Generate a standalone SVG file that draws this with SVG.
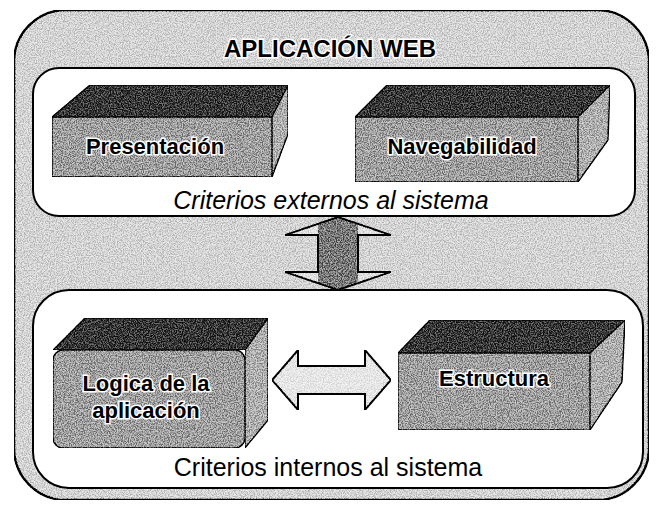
<svg xmlns="http://www.w3.org/2000/svg" width="656" height="506" viewBox="0 0 656 506">
<style>
.frame{fill:#d6d6d6;stroke:#000;stroke-width:2.5}
.panel{fill:#fff;stroke:#000;stroke-width:2}
.top{fill:#333;stroke:#000;stroke-width:1.5;stroke-linejoin:round}
.front{fill:#a2a2a2;stroke:#000;stroke-width:1.5;stroke-linejoin:round}
.side{fill:#b2b2b2;stroke:#000;stroke-width:1.5;stroke-linejoin:round}
.lbl{font-family:"Liberation Sans",Arial,sans-serif;font-size:22px;font-weight:bold;fill:#000;stroke:#fff;stroke-width:3;paint-order:stroke;text-anchor:middle}
.cap{font-family:"Liberation Sans",Arial,sans-serif;font-size:25px;fill:#000;text-anchor:middle}
.arrow{stroke:#000;stroke-width:2;stroke-linejoin:miter}
</style>
<defs>
<filter id="grain" x="0" y="0" width="100%" height="100%" color-interpolation-filters="sRGB">
<feTurbulence type="fractalNoise" baseFrequency="0.85" numOctaves="2" seed="5"/>
<feColorMatrix type="saturate" values="0"/>
<feComponentTransfer result="n">
<feFuncR type="linear" slope="4" intercept="-1.5"/>
<feFuncG type="linear" slope="4" intercept="-1.5"/>
<feFuncB type="linear" slope="4" intercept="-1.5"/>
<feFuncA type="linear" slope="0" intercept="1"/>
</feComponentTransfer>
<feBlend in="n" in2="SourceGraphic" mode="soft-light" result="b"/>
<feComposite in="b" in2="SourceGraphic" operator="in"/>
</filter>
<linearGradient id="vshaft" gradientUnits="userSpaceOnUse" x1="285" y1="0" x2="391" y2="0">
<stop offset="0" stop-color="#e2e2e2"/>
<stop offset="0.31" stop-color="#e2e2e2"/>
<stop offset="0.31" stop-color="#7a7a7a"/>
<stop offset="0.69" stop-color="#7a7a7a"/>
<stop offset="0.69" stop-color="#e2e2e2"/>
<stop offset="1" stop-color="#e2e2e2"/>
</linearGradient>
</defs>
<g id="frame">
<rect class="frame" x="14" y="10" width="635" height="490" rx="52" ry="52" filter="url(#grain)"/>
<text class="lbl" x="330" y="57" style="font-size:24px">APLICACIÓN WEB</text>
</g>
<g id="externos">
<rect class="panel" x="33" y="68" width="602" height="148" rx="26" ry="26"/>
<text class="cap" x="331" y="209" font-style="italic">Criterios externos al sistema</text>
</g>
<g id="internos">
<rect class="panel" x="33" y="290" width="610" height="198" rx="36" ry="36"/>
<text class="cap" x="328" y="476">Criterios internos al sistema</text>
</g>
<g id="presentacion">
<polygon class="top" points="52,117 90,85 288,85 272,117" filter="url(#grain)"/>
<polygon class="side" points="272,117 288,85 288,134 272,177" filter="url(#grain)"/>
<rect class="front" x="52" y="117" width="220" height="60" filter="url(#grain)"/>
<text class="lbl" x="155" y="154">Presentación</text>
</g>
<g id="navegabilidad">
<polygon class="top" points="355,117 387,85 610,85 578,117" filter="url(#grain)"/>
<polygon class="side" points="578,117 610,85 608,140 578,182" filter="url(#grain)"/>
<rect class="front" x="355" y="117" width="223" height="65" filter="url(#grain)"/>
<text class="lbl" x="462" y="154">Navegabilidad</text>
</g>
<g id="logica">
<polygon class="top" points="53,350 85,318 268,318 245,350" filter="url(#grain)"/>
<polygon class="side" points="245,350 268,318 268,420 245,448" filter="url(#grain)"/>
<rect class="front" x="53" y="350" width="192" height="98" rx="10" filter="url(#grain)"/>
<text class="lbl" x="146" y="391">Logica de la</text>
<text class="lbl" x="146" y="418">aplicación</text>
</g>
<g id="estructura">
<polygon class="top" points="398,353 430,320 625,320 590,353" filter="url(#grain)"/>
<polygon class="side" points="590,353 625,320 622,382 590,430" filter="url(#grain)"/>
<rect class="front" x="398" y="353" width="192" height="77" filter="url(#grain)"/>
<text class="lbl" x="494" y="386">Estructura</text>
</g>
<g id="connectors">
<polygon class="arrow" fill="url(#vshaft)" points="338,217 391,235 358,235 358,272 391,272 338,290 285,272 318,272 318,235 285,235" filter="url(#grain)"/>
<polygon class="arrow" fill="#e8e8e8" points="272,380 298,350 298,366 365,366 365,350 391,380 365,410 365,394 298,394 298,410" filter="url(#grain)"/>
</g>
</svg>
